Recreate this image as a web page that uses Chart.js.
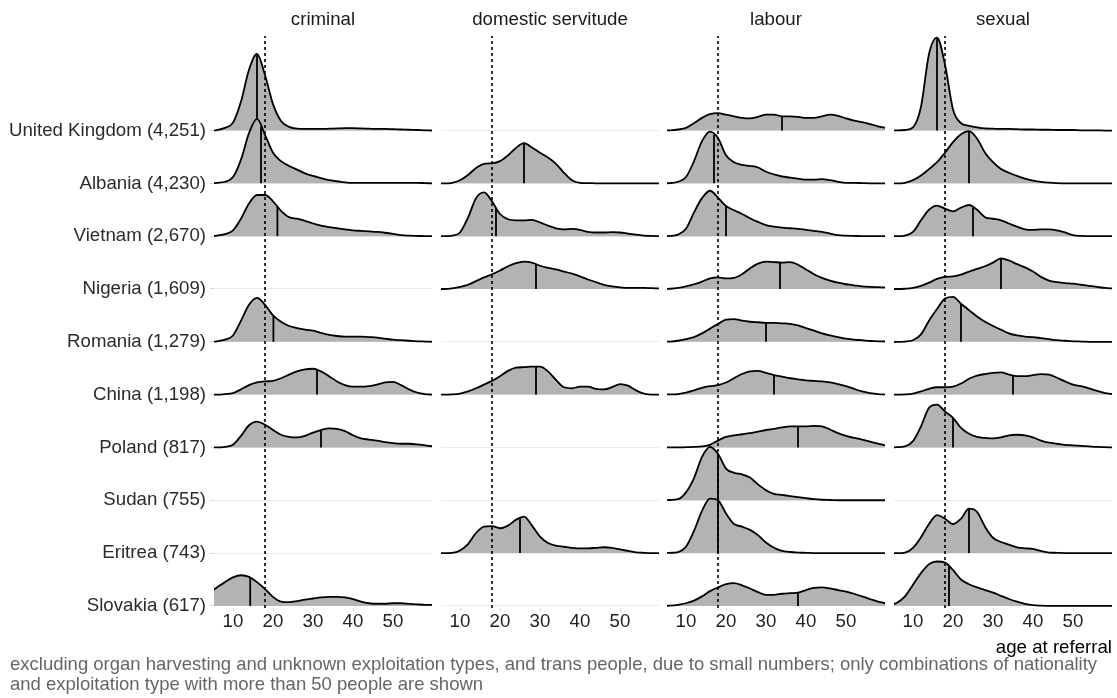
<!DOCTYPE html>
<html>
<head>
<meta charset="utf-8">
<script src="https://cdn.jsdelivr.net/npm/chart.js@4.4.1/dist/chart.umd.min.js"></script>
<style>
  body { margin: 0; background: #fff; width: 1117px; height: 698px; overflow: hidden; position: relative;
         font-family: "Liberation Sans", Arial, sans-serif; }
  canvas { position: absolute; top: 0; }
  #caption { position: absolute; left: 10px; top: 654px; font-size: 18.5px; line-height: 20px;
             color: #666; white-space: nowrap; }
</style>
</head>
<body>
<canvas id="c0"></canvas>
<canvas id="c1"></canvas>
<canvas id="c2"></canvas>
<canvas id="c3"></canvas>
<div id="caption">excluding organ harvesting and unknown exploitation types, and trans people, due to small numbers; only combinations of nationality<br>and exploitation type with more than 50 people are shown</div>
<script>
// ages the density curves are sampled at
const ages = [4, 6, 8, 10, 12, 14, 16, 18, 20, 22, 24, 26, 28, 30, 32, 34, 36, 38, 40, 42, 44, 46, 48, 50, 52, 54, 56, 58, 60];
const xTicks = [10, 20, 30, 40, 50];
const adultAge = 18;

const countries = ["United Kingdom (4,251)", "Albania (4,230)", "Vietnam (2,670)", "Nigeria (1,609)",
  "Romania (1,279)", "China (1,198)", "Poland (817)", "Sudan (755)", "Eritrea (743)", "Slovakia (617)"];
const panelTitles = ["criminal", "domestic servitude", "labour", "sexual"];

// density heights, in units of one ridge row
const crimUK = [0,0.01,0.05,0.15,0.55,1.15,1.45,1.05,0.5,0.18,0.07,0.035,0.03,0.03,0.03,0.035,0.04,0.045,0.045,0.04,0.035,0.03,0.03,0.025,0.02,0.015,0.01,0.005,0];
const crimAL = [0,0.01,0.03,0.12,0.45,0.95,1.22,0.92,0.58,0.42,0.33,0.26,0.19,0.14,0.1,0.06,0.04,0.02,0.01,0.01,0.01,0.01,0.01,0.01,0.01,0.01,0.01,0.005,0];
const crimVN = [0,0.01,0.04,0.11,0.33,0.62,0.78,0.78,0.66,0.48,0.36,0.33,0.29,0.24,0.2,0.17,0.15,0.13,0.11,0.1,0.09,0.08,0.065,0.045,0.02,0.01,0.005,0,0];
const crimRO = [0,0.01,0.04,0.12,0.4,0.7,0.83,0.7,0.5,0.38,0.3,0.26,0.23,0.21,0.17,0.13,0.11,0.1,0.1,0.1,0.09,0.08,0.06,0.04,0.03,0.02,0.01,0.005,0];
const crimCN = [0,0,0.01,0.03,0.1,0.18,0.23,0.25,0.26,0.31,0.38,0.44,0.48,0.49,0.44,0.35,0.25,0.18,0.15,0.15,0.16,0.19,0.23,0.24,0.18,0.1,0.04,0.01,0];
const crimPL = [0,0,0.01,0.05,0.22,0.42,0.49,0.43,0.33,0.24,0.2,0.19,0.22,0.28,0.33,0.36,0.35,0.31,0.23,0.17,0.15,0.13,0.1,0.08,0.07,0.07,0.06,0.04,0.02];
const crimSK = [0.25,0.35,0.45,0.54,0.58,0.55,0.45,0.32,0.17,0.08,0.07,0.09,0.12,0.14,0.16,0.17,0.17,0.16,0.13,0.08,0.05,0.04,0.04,0.05,0.05,0.04,0.03,0.02,0.02];

const domAL = [0,0,0.01,0.06,0.16,0.29,0.37,0.38,0.42,0.53,0.67,0.76,0.68,0.58,0.49,0.37,0.2,0.06,0.01,0.005,0,0,0,0,0,0,0,0,0];
const domVN = [0,0,0.01,0.07,0.35,0.72,0.83,0.66,0.42,0.32,0.3,0.3,0.31,0.26,0.2,0.15,0.13,0.14,0.12,0.08,0.07,0.07,0.075,0.07,0.05,0.03,0.01,0.005,0];
const domNG = [0,0,0.01,0.04,0.08,0.15,0.22,0.28,0.35,0.43,0.49,0.52,0.5,0.44,0.4,0.37,0.33,0.29,0.24,0.18,0.13,0.08,0.05,0.03,0.02,0.02,0.02,0.015,0.01];
const domCN = [0,0,0.005,0.02,0.06,0.12,0.19,0.26,0.35,0.45,0.51,0.52,0.53,0.53,0.44,0.28,0.14,0.12,0.15,0.15,0.11,0.1,0.14,0.2,0.17,0.08,0.02,0,0];
const domER = [0,0,0.005,0.05,0.17,0.38,0.5,0.51,0.47,0.52,0.63,0.69,0.52,0.31,0.19,0.14,0.12,0.1,0.09,0.09,0.1,0.11,0.1,0.07,0.04,0.015,0.005,0,0];

const labUK = [0,0.005,0.02,0.05,0.14,0.24,0.31,0.33,0.3,0.27,0.24,0.23,0.26,0.3,0.3,0.27,0.27,0.26,0.24,0.24,0.27,0.3,0.28,0.23,0.19,0.16,0.12,0.08,0.05];
const labAL = [0,0.005,0.03,0.12,0.42,0.8,0.98,0.86,0.53,0.4,0.35,0.33,0.3,0.22,0.17,0.13,0.11,0.09,0.07,0.07,0.08,0.06,0.03,0.01,0.01,0.005,0,0,0];
const labVN = [0,0.005,0.03,0.14,0.45,0.72,0.86,0.73,0.57,0.49,0.42,0.34,0.27,0.21,0.18,0.16,0.15,0.14,0.12,0.1,0.08,0.05,0.02,0.01,0.005,0,0,0,0];
const labNG = [0,0.005,0.02,0.05,0.09,0.14,0.2,0.22,0.2,0.21,0.28,0.39,0.48,0.52,0.51,0.5,0.51,0.46,0.37,0.28,0.21,0.16,0.12,0.09,0.07,0.05,0.04,0.035,0.03];
const labRO = [0,0.005,0.02,0.05,0.09,0.16,0.25,0.34,0.42,0.43,0.4,0.38,0.37,0.36,0.36,0.35,0.34,0.31,0.26,0.21,0.16,0.12,0.09,0.06,0.04,0.03,0.015,0.01,0.005];
const labCN = [0,0.005,0.01,0.04,0.08,0.13,0.16,0.18,0.23,0.31,0.39,0.44,0.45,0.41,0.37,0.34,0.31,0.29,0.27,0.26,0.25,0.23,0.2,0.16,0.11,0.06,0.03,0.01,0];
const labPL = [0,0,0,0.005,0.01,0.02,0.05,0.13,0.2,0.23,0.25,0.27,0.3,0.33,0.35,0.38,0.4,0.4,0.4,0.41,0.4,0.34,0.27,0.22,0.18,0.15,0.11,0.07,0.04];
const labSD = [0,0.005,0.02,0.15,0.42,0.82,1.01,0.88,0.6,0.52,0.49,0.43,0.3,0.19,0.12,0.1,0.08,0.06,0.04,0.02,0.01,0.005,0,0,0,0,0,0,0];
const labER = [0,0.005,0.02,0.12,0.42,0.8,1.03,1.0,0.75,0.55,0.5,0.44,0.34,0.2,0.1,0.04,0.02,0.01,0.005,0,0,0,0,0,0,0,0,0,0];
const labSK = [0,0.005,0.02,0.05,0.1,0.18,0.28,0.35,0.41,0.43,0.39,0.33,0.26,0.21,0.21,0.23,0.24,0.25,0.3,0.34,0.35,0.33,0.3,0.27,0.23,0.18,0.13,0.08,0.05];

const sexUK = [0,0.003,0.01,0.06,0.45,1.45,1.76,1.25,0.4,0.14,0.09,0.06,0.04,0.035,0.03,0.03,0.025,0.02,0.02,0.015,0.015,0.01,0.01,0.01,0.005,0.005,0.005,0,0];
const sexAL = [0,0,0.01,0.06,0.15,0.27,0.4,0.58,0.78,0.93,0.99,0.85,0.58,0.4,0.27,0.2,0.14,0.09,0.05,0.03,0.015,0.005,0,0,0,0,0,0,0];
const sexVN = [0,0,0.01,0.08,0.3,0.5,0.58,0.52,0.47,0.54,0.59,0.5,0.36,0.33,0.3,0.24,0.18,0.13,0.12,0.13,0.13,0.11,0.07,0.02,0.005,0,0,0,0];
const sexNG = [0,0,0.005,0.02,0.06,0.12,0.19,0.23,0.24,0.27,0.33,0.38,0.43,0.5,0.58,0.54,0.47,0.41,0.33,0.23,0.16,0.13,0.11,0.1,0.08,0.06,0.04,0.02,0.01];
const sexRO = [0,0,0.005,0.03,0.14,0.4,0.62,0.82,0.85,0.72,0.6,0.48,0.38,0.3,0.23,0.16,0.12,0.1,0.09,0.07,0.05,0.03,0.02,0.01,0.005,0,0,0,0];
const sexCN = [0,0,0.005,0.02,0.06,0.11,0.14,0.14,0.15,0.21,0.3,0.36,0.39,0.41,0.42,0.38,0.35,0.35,0.37,0.39,0.38,0.32,0.25,0.19,0.16,0.12,0.07,0.03,0.01];
const sexPL = [0,0.005,0.02,0.12,0.4,0.75,0.81,0.68,0.56,0.37,0.26,0.2,0.18,0.17,0.19,0.23,0.24,0.23,0.19,0.13,0.09,0.07,0.05,0.04,0.03,0.02,0.01,0.005,0];
const sexER = [0,0,0.01,0.1,0.3,0.55,0.72,0.65,0.55,0.65,0.84,0.78,0.5,0.29,0.21,0.16,0.11,0.09,0.08,0.04,0.01,0.005,0,0,0,0,0,0,0];
const sexSK = [0.01,0.06,0.18,0.4,0.62,0.79,0.84,0.82,0.68,0.5,0.41,0.35,0.3,0.25,0.19,0.13,0.08,0.04,0.015,0.005,0,0,0,0,0,0,0,0,0];

// median age per country (same order as countries), null = not shown
const crimMed = [16, 17, 21.1, null, 20.1, 31, 32, null, null, 14.3];
const domMed = [null, 26, 19, 29, null, 29, null, null, 25, null];
const labMed = [34, 17, 20, 33.5, 30, 32, 38, 18, 18, 38];
const sexMed = [16, 24, 25, 32, 22, 35, 20, null, 24, 19];

const panels = [
  { curves: [crimUK, crimAL, crimVN, null, crimRO, crimCN, crimPL, null, null, crimSK], medians: crimMed },
  { curves: [null, domAL, domVN, domNG, null, domCN, null, null, domER, null], medians: domMed },
  { curves: [labUK, labAL, labVN, labNG, labRO, labCN, labPL, labSD, labER, labSK], medians: labMed },
  { curves: [sexUK, sexAL, sexVN, sexNG, sexRO, sexCN, sexPL, null, sexER, sexSK], medians: sexMed }
];

const PANEL_LEFT = [214, 441, 667, 894];
const PANEL_W = 218;
const X_MIN = 5.25, X_MAX = 59.75;
const Y_MIN = -0.04, Y_MAX = 10.79;
const CANVAS_H = 660, AREA_BOTTOM = 608;
const FONT = "'Liberation Sans', Arial, sans-serif";
const FS = 18.67;
const LW = 1.8;

Chart.defaults.font.family = FONT;

const rowBase = k => countries.length - 1 - k;

function heightAt(curve, x) {
  for (let j = 1; j < ages.length; j++) {
    if (x <= ages[j]) {
      const t = (x - ages[j - 1]) / (ages[j] - ages[j - 1]);
      return curve[j - 1] + t * (curve[j] - curve[j - 1]);
    }
  }
  return curve[curve.length - 1];
}

function makeChart(i) {
  const p = panels[i];
  const first = i === 0;
  const last = i === panels.length - 1;
  const canvas = document.getElementById("c" + i);
  const left = first ? 0 : PANEL_LEFT[i] - 4;
  const right = PANEL_LEFT[i] + PANEL_W + 5;
  canvas.width = right - left;
  canvas.height = CANVAS_H;
  canvas.style.left = left + "px";

  const datasets = [];
  p.curves.forEach((curve, k) => {
    if (!curve) return;
    const base = rowBase(k);
    datasets.push({
      data: ages.map((a, j) => ({ x: a, y: base + curve[j] })),
      fill: { value: base },
      backgroundColor: "#b3b3b3",
      borderColor: "#000",
      borderWidth: LW,
      borderJoinStyle: "round",
      pointRadius: 0,
      cubicInterpolationMode: "monotone",
      order: base * 2 + 1
    });
    const m = p.medians[k];
    datasets.push({
      data: [{ x: m, y: base }, { x: m, y: base + heightAt(curve, m) }],
      borderColor: "#000",
      borderWidth: LW,
      pointRadius: 0,
      fill: false,
      order: base * 2
    });
  });
  datasets.push({
    data: [{ x: adultAge, y: Y_MIN }, { x: adultAge, y: Y_MAX }],
    borderColor: "#000",
    borderWidth: 1.6,
    borderDash: [3, 3],
    pointRadius: 0,
    fill: false,
    order: -1
  });

  new Chart(canvas, {
    type: "line",
    data: { datasets },
    options: {
      responsive: false,
      animation: false,
      devicePixelRatio: 1,
      layout: { padding: { left: first ? 0 : 4, right: 5, top: 0, bottom: 0 } },
      plugins: {
        legend: { display: false },
        tooltip: { enabled: false },
        title: {
          display: true,
          text: panelTitles[i],
          fullSize: false,
          color: "#1a1a1a",
          font: { size: FS, weight: "normal", family: FONT },
          padding: { top: 9, bottom: 4.6 }
        }
      },
      scales: {
        x: {
          type: "linear",
          min: X_MIN,
          max: X_MAX,
          afterBuildTicks: s => { s.ticks = xTicks.map(v => ({ value: v })); },
          afterFit: s => { s.height = CANVAS_H - AREA_BOTTOM; },
          grid: { drawOnChartArea: false, drawTicks: true, tickLength: 3, tickColor: "#d9d9d9" },
          border: { display: false },
          ticks: { color: "#222", font: { size: FS }, padding: 0, maxRotation: 0, autoSkip: false },
          title: {
            display: last,
            text: "age at referral",
            align: "end",
            color: "#000",
            font: { size: FS },
            padding: { top: 0, bottom: 1 }
          }
        },
        y: {
          type: "linear",
          min: Y_MIN,
          max: Y_MAX,
          afterBuildTicks: s => { s.ticks = countries.map((c, k) => ({ value: rowBase(k) })); },
          afterFit: s => { s.width = first ? PANEL_LEFT[0] : 0; },
          grid: { color: "#ebebeb", lineWidth: 1, drawTicks: first, tickLength: 4, tickColor: "#d9d9d9" },
          border: { display: false },
          ticks: {
            display: first,
            color: "#2b2b2b",
            font: { size: FS },
            padding: 4,
            autoSkip: false,
            callback: v => countries[countries.length - 1 - v]
          }
        }
      }
    }
  });
}

panels.forEach((p, i) => makeChart(i));
</script>
</body>
</html>
